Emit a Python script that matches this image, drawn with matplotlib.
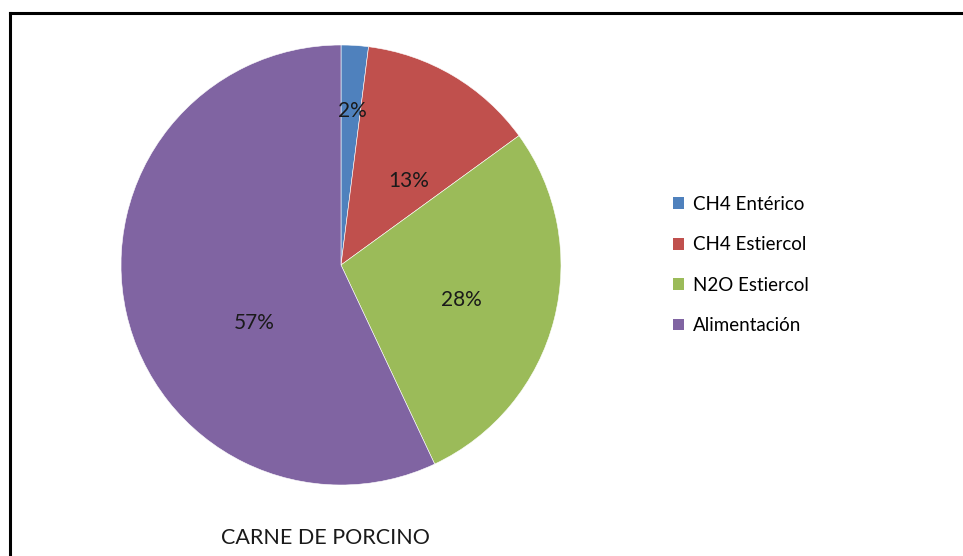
import matplotlib.pyplot as plt
from matplotlib.lines import Line2D
from matplotlib.patches import Patch

categories = ['CH4 Entérico', 'CH4 Estiercol', 'N2O Estiercol', 'Alimentación']
values = [2, 13, 28, 57]
colors = ['#4F81BD', '#C0504D', '#9BBB59', '#8064A2']
# label spots inside the pie (data units, radius 1)
label_xy = [(0.05, 0.70), (0.31, 0.38), (0.545, -0.16), (-0.395, -0.265)]
title = 'CARNE DE PORCINO'

plt.rcParams['font.family'] = ['Lato', 'DejaVu Sans']

fig = plt.figure(figsize=(9.63, 5.56), dpi=100)
fig.patch.set_facecolor('white')

# frame around the chart (only top and left edges are visible)
fig.add_artist(Line2D([9.5 / 963, 9.5 / 963], [0, 1 - 12.5 / 556], color='black', lw=2.2))
fig.add_artist(Line2D([9.5 / 963, 1], [1 - 12.5 / 556, 1 - 12.5 / 556], color='black', lw=2.2))

ax = fig.add_axes([121 / 963, 71 / 556, 440 / 963, 440 / 556])
wedges, _ = ax.pie(values, colors=colors, startangle=90, counterclock=False,
                   radius=1, wedgeprops=dict(edgecolor='white', linewidth=0.4))
ax.set_xlim(-1, 1)
ax.set_ylim(-1, 1)
ax.set_aspect('equal')
ax.axis('off')

for v, (x, y) in zip(values, label_xy):
    ax.text(x, y, f'{v}%', ha='center', va='center', fontsize=15, color='#1a1a1a')

handles = [Patch(facecolor=c, edgecolor='none', label=l) for c, l in zip(colors, categories)]
fig.legend(handles=handles, loc='center left', bbox_to_anchor=(656 / 963, 1 - 265 / 556),
           frameon=False, fontsize=13.5, handlelength=0.6, handleheight=0.6,
           handletextpad=0.45, labelspacing=1.25)

fig.text(325 / 963, 1 - 538 / 556, title, ha='center', va='center', fontsize=15.5, color='#1a1a1a')

fig.savefig('out.png', dpi=100)
